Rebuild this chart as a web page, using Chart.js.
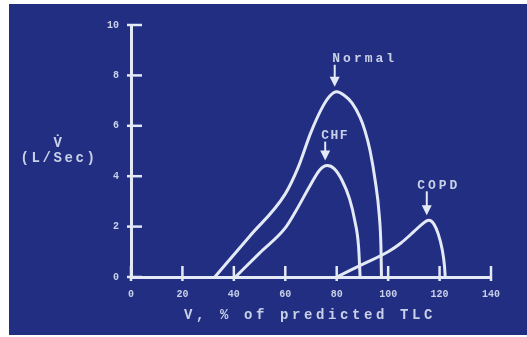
<!DOCTYPE html>
<html>
<head>
<meta charset="utf-8">
<script src="https://cdn.jsdelivr.net/npm/chart.js@4"></script>
<style>
  html, body { margin: 0; padding: 0; background: #fff; }
  #wrap { width: 527px; height: 337px; }
</style>
</head>
<body>
<div id="wrap"><canvas id="chartCanvas" width="527" height="337"></canvas></div>
<script>
// flow-volume curves, values
const normalX = [32.6, 46, 60, 65, 70, 74.5, 77.5, 80, 83, 86, 89, 91, 93, 95, 96.5, 97.2, 97.4];
const normalY = [0, 1.6, 3.3, 4.35, 5.75, 6.75, 7.2, 7.35, 7.2, 6.9, 6.35, 5.8, 5.0, 3.8, 2.5, 1.2, 0];

const chfX = [40.6, 50, 60, 64, 69.5, 73.4, 76.3, 79, 82, 85, 87, 88.5, 89.1];
const chfY = [0, 0.95, 1.95, 2.6, 3.6, 4.25, 4.42, 4.3, 3.85, 3.1, 2.25, 1.2, 0];

const copdX = [80, 90, 100, 105, 110, 113, 115.8, 117.8, 119.5, 121, 121.9, 122.2];
const copdY = [0, 0.5, 1.0, 1.35, 1.8, 2.08, 2.25, 2.1, 1.7, 1.1, 0.45, 0];

const curveLabels = ["Normal", "CHF", "COPD"];
const xTickValues = [0, 20, 40, 60, 80, 100, 120, 140];
const yTickValues = [0, 2, 4, 6, 8, 10];
const xTitle = "V, % of predicted TLC";
const yTitle = ["V\u0307", "(L/Sec)"];

const BG = "rgb(33,46,130)";
const INK = "#e3eaf6";
const TEXT = "#c9d1e8";

function toPoints(xs, ys) {
  return xs.map((x, i) => ({ x: x, y: ys[i] }));
}

function lineSet(label, xs, ys) {
  return {
    label: label,
    data: toPoints(xs, ys),
    showLine: true,
    borderColor: INK,
    borderWidth: 3,
    pointRadius: 0,
    cubicInterpolationMode: "monotone",
    fill: false
  };
}

const deco = {
  id: "deco",
  beforeDraw(chart) {
    const ctx = chart.ctx;
    ctx.save();
    ctx.fillStyle = BG;
    ctx.fillRect(9, 4, chart.width - 9, chart.height - 6);
    ctx.restore();
  },
  afterDraw(chart) {
    const ctx = chart.ctx;
    const xs = chart.scales.x, ys = chart.scales.y;
    const x0 = xs.getPixelForValue(0), y0 = ys.getPixelForValue(0);
    ctx.save();
    ctx.strokeStyle = INK;
    ctx.lineWidth = 2.5;
    // ticks that cross the axis lines
    ys.ticks.forEach(t => {
      const p = ys.getPixelForValue(t.value);
      ctx.beginPath(); ctx.moveTo(x0 - 4, p); ctx.lineTo(x0 + 11, p); ctx.stroke();
    });
    xs.ticks.forEach(t => {
      const p = xs.getPixelForValue(t.value);
      ctx.beginPath(); ctx.moveTo(p, y0 - 11); ctx.lineTo(p, y0 + 4); ctx.stroke();
    });

    // axis titles
    ctx.fillStyle = TEXT;
    ctx.textAlign = "center";
    ctx.textBaseline = "middle";
    ctx.font = "bold 14px 'Liberation Mono'";
    ctx.letterSpacing = "3.6px";
    ctx.fillText(xTitle, (xs.left + xs.right) / 2 - 1, 315);
    ctx.letterSpacing = "2.6px";
    ctx.fillText(yTitle[0], 59, 143);
    ctx.fillText(yTitle[1], 59, 158);

    // arrows + curve names, anchored to each curve's peak
    const offs = [{ dx: 30, lift: 33 }, { dx: 10, lift: 30 }, { dx: 12, lift: 35 }];
    chart.data.datasets.forEach((ds, i) => {
      let peak = ds.data[0];
      ds.data.forEach(p => { if (p.y > peak.y) peak = p; });
      const px = xs.getPixelForValue(peak.x) - 2;
      const py = ys.getPixelForValue(peak.y);
      const tip = py - 5, top = py - offs[i].lift + 6;
      ctx.strokeStyle = INK;
      ctx.lineWidth = 2;
      ctx.beginPath(); ctx.moveTo(px, top); ctx.lineTo(px, tip - 6); ctx.stroke();
      ctx.fillStyle = INK;
      ctx.beginPath();
      ctx.moveTo(px - 5, tip - 10); ctx.lineTo(px + 5, tip - 10); ctx.lineTo(px, tip);
      ctx.closePath(); ctx.fill();
      ctx.fillStyle = TEXT;
      ctx.font = "bold 13px 'Liberation Mono'";
      ctx.letterSpacing = i === 1 ? "1.5px" : "3px";
      ctx.fillText(curveLabels[i], px + offs[i].dx, py - offs[i].lift);
    });
    ctx.restore();
  }
};

const ctx = document.getElementById("chartCanvas").getContext("2d");
const chart = new Chart(ctx, {
  type: "scatter",
  data: {
    datasets: [
      lineSet(curveLabels[0], normalX, normalY),
      lineSet(curveLabels[1], chfX, chfY),
      lineSet(curveLabels[2], copdX, copdY)
    ]
  },
  options: {
    responsive: false,
    animation: false,
    layout: { padding: { top: 25, right: 36, left: 0, bottom: 0 } },
    plugins: { legend: { display: false }, tooltip: { enabled: false } },
    scales: {
      x: {
        type: "linear", min: 0, max: 140,
        afterBuildTicks: s => { s.ticks = xTickValues.map(v => ({ value: v })); },
        afterFit: s => { s.height = 60; },
        ticks: { color: TEXT, padding: 11, font: { family: "'Liberation Mono'", size: 10, weight: "bold" } },
        grid: { display: false, drawTicks: false, tickLength: 0 },
        border: { display: true, color: INK, width: 3 }
      },
      y: {
        type: "linear", min: 0, max: 10,
        afterBuildTicks: s => { s.ticks = yTickValues.map(v => ({ value: v })); },
        afterFit: s => { s.width = 131; },
        ticks: { color: TEXT, padding: 12, font: { family: "'Liberation Mono'", size: 10, weight: "bold" } },
        grid: { display: false, drawTicks: false, tickLength: 0 },
        border: { display: true, color: INK, width: 3 }
      }
    }
  },
  plugins: [deco]
});
</script>
</body>
</html>
